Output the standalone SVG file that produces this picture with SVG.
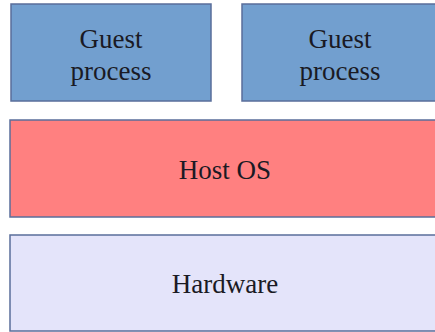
<svg xmlns="http://www.w3.org/2000/svg" width="435" height="332" viewBox="0 0 435 332">
<style>
.box{stroke:#5a6e9a;stroke-width:1.5}
.lbl{font-family:"Liberation Serif","Times New Roman",serif;font-size:27px;fill:#1a1a24;text-anchor:middle}
</style>
<rect width="435" height="332" fill="#ffffff"/>
<g id="guest1">
<rect class="box" x="11" y="4" width="200" height="97" fill="#729fcf"/>
<text class="lbl" x="111" y="48">Guest</text>
<text class="lbl" x="111" y="80">process</text>
</g>
<g id="guest2">
<rect class="box" x="242" y="4" width="200" height="97" fill="#729fcf"/>
<text class="lbl" x="340" y="48">Guest</text>
<text class="lbl" x="340" y="80">process</text>
</g>
<g id="hostos">
<rect class="box" x="10" y="120" width="432" height="97" fill="#ff8080"/>
<text class="lbl" x="225" y="179">Host OS</text>
</g>
<g id="hardware">
<rect class="box" x="10" y="235" width="432" height="96" fill="#e4e4fa"/>
<text class="lbl" x="225" y="293">Hardware</text>
</g>
<g id="connectors"></g>
</svg>
